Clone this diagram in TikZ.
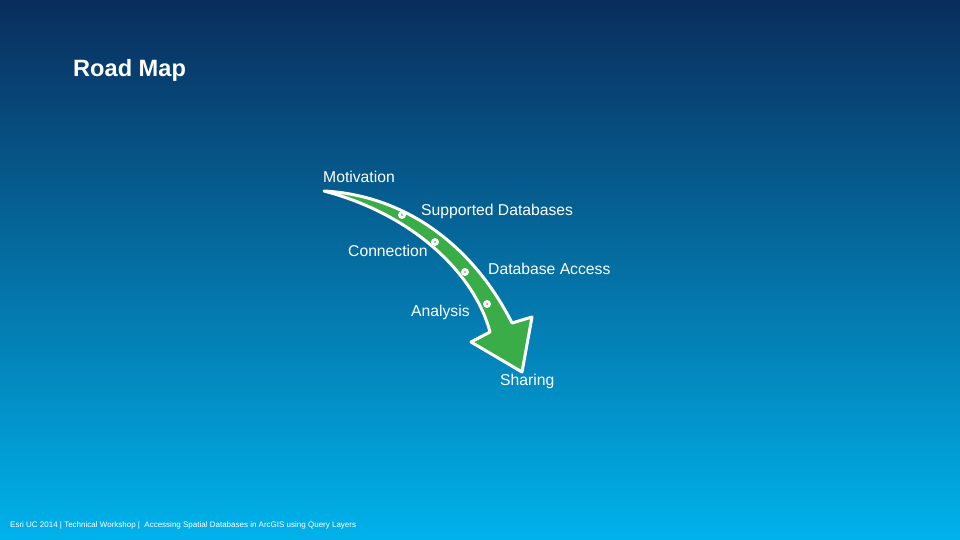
\documentclass[tikz,border=0pt]{standalone}
\usepackage{fontspec}
\setmainfont{Liberation Sans}
\definecolor{bgtop}{RGB}{9,45,92}
\definecolor{bgmid}{RGB}{5,100,165}
\definecolor{bgbot}{RGB}{0,178,235}
\definecolor{arrowgreen}{RGB}{58,172,72}
\definecolor{dotgrey}{RGB}{170,180,175}
\tikzset{
  lbl/.style={text=white, font=\fontsize{15.7}{18}\selectfont, inner sep=0pt, anchor=west},
  roadarrow/.style={draw=white, fill=arrowgreen, line width=3pt, line join=round},
  stopdot/.style={circle, fill=white, minimum size=8pt, inner sep=0pt},
}
\begin{document}
\begin{tikzpicture}[x=1pt,y=-1pt]
\useasboundingbox (0,0) rectangle (960,540);
\shade[top color=bgtop, middle color=bgmid, bottom color=bgbot] (0,0) rectangle (960,540);
\node[text=white, font=\bfseries\fontsize{23.6}{28}\selectfont, inner sep=0pt, anchor=west] (title) at (73,70) {Road Map};
% arrow
\draw[roadarrow] (324,191) .. controls (400,195) and (470,240) .. (512,323)
  -- (532,317) -- (522,372) -- (471,342) -- (490,332)
  .. controls (475,275) and (415,215) .. (324,191) -- cycle;
\foreach \n/\x/\y in {d1/402/215, d2/435/242, d3/465/272, d4/487/304}{
  \node[stopdot] (\n) at (\x,\y) {};
  \fill[dotgrey] (\x,\y) circle (1.3);
}
\node[lbl] (motivation) at (323,177) {Motivation};
\node[lbl] (supported) at (421,211) {Supported Databases};
\node[lbl] (connection) at (348,251) {Connection};
\node[lbl] (access) at (488,269) {Database Access};
\node[lbl] (analysis) at (411,312) {Analysis};
\node[lbl] (sharing) at (500,381) {Sharing};
\node[text=white, font=\fontsize{8}{9}\selectfont, inner sep=0pt, anchor=west] (footer) at (10,525) {Esri UC 2014 | Technical Workshop |\ \ Accessing Spatial Databases in ArcGIS using Query Layers};
\end{tikzpicture}
\end{document}
